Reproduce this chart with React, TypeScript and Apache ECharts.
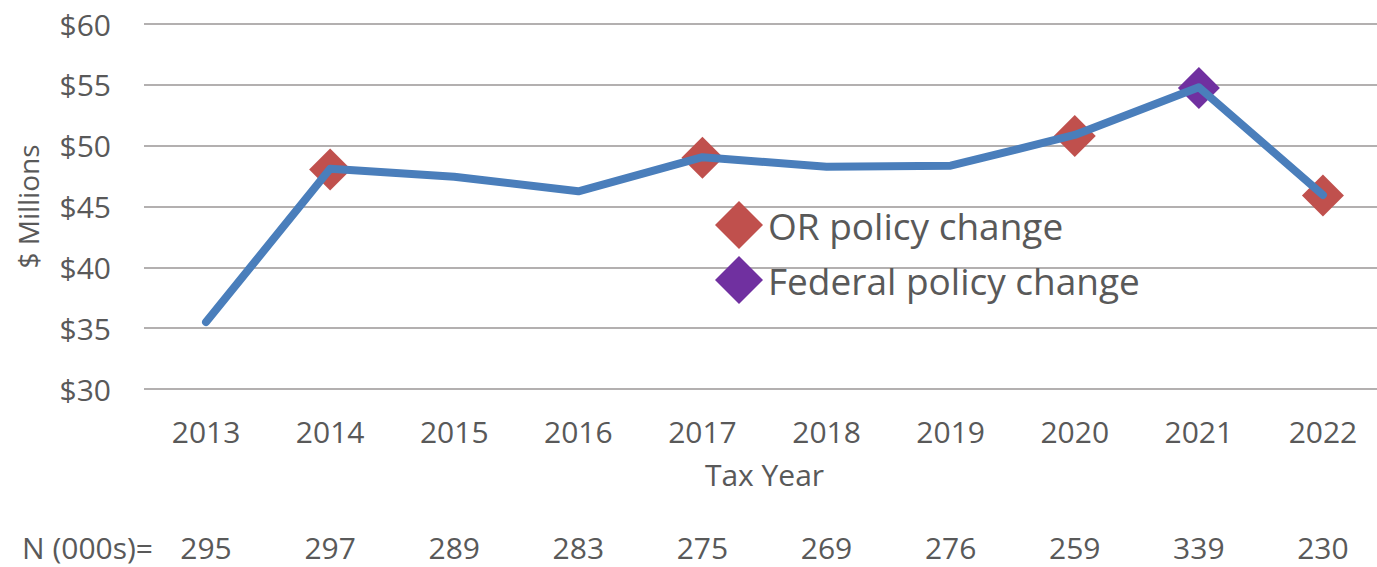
import React, { useEffect, useRef } from "react";
import * as echarts from "echarts";

const years = ["2013", "2014", "2015", "2016", "2017", "2018", "2019", "2020", "2021", "2022"];
const amounts = [35.5, 48.1, 47.45, 46.25, 49.05, 48.27, 48.35, 50.88, 54.8, 45.95];
const orPolicyChange: (number | string)[] = ["-", 48.05, "-", "-", 49.0, "-", "-", 50.8, "-", 45.9];
const federalPolicyChange: (number | string)[] = ["-", "-", "-", "-", "-", "-", "-", "-", 54.75, "-"];
const nCounts = ["295", "297", "289", "283", "275", "269", "276", "259", "339", "230"];
const yTicks = { min: 30, max: 60, interval: 5 };

const FONT = "'Open Sans', sans-serif";
const TEXT = "#595959";

export default function App() {
  const ref = useRef<HTMLDivElement>(null);
  useEffect(() => {
    document.body.style.margin = "0";
    const chart = echarts.init(ref.current!, null, { renderer: "svg" });
    chart.setOption({
      animation: false,
      textStyle: { fontFamily: FONT },
      grid: { left: 144, width: 1241, top: 24, height: 365, outerBoundsMode: "none", containLabel: false },
      legend: {
        orient: "vertical",
        left: 710,
        top: 196,
        itemWidth: 48,
        itemHeight: 48,
        itemGap: 7,
        icon: "diamond",
        data: ["OR policy change", "Federal policy change"],
        textStyle: { fontFamily: FONT, fontSize: 37, color: TEXT },
      },
      xAxis: [
        {
          type: "category",
          data: years,
          axisLine: { show: false },
          axisTick: { show: false },
          axisLabel: { fontFamily: FONT, fontSize: 30, color: TEXT, margin: 27 },
          name: "Tax Year",
          nameLocation: "middle",
          nameGap: 70,
          nameTextStyle: { fontFamily: FONT, fontSize: 30, color: TEXT },
        },
        {
          type: "category",
          data: nCounts,
          position: "bottom",
          axisLine: { show: false },
          axisTick: { show: false },
          splitLine: { show: false },
          axisLabel: { fontFamily: FONT, fontSize: 30, color: TEXT, margin: 143 },
        },
      ],
      yAxis: {
        type: "value",
        min: yTicks.min,
        max: yTicks.max,
        interval: yTicks.interval,
        axisLine: { show: false },
        axisTick: { show: false },
        splitLine: { lineStyle: { color: "#b3b0b0", width: 2 } },
        axisLabel: {
          fontFamily: FONT,
          fontSize: 30,
          color: TEXT,
          margin: 33,
          formatter: (v: number) => "$" + v,
        },
        name: "$ Millions",
        nameLocation: "middle",
        nameRotate: 90,
        nameGap: 102,
        nameTextStyle: { fontFamily: FONT, fontSize: 28, color: TEXT },
      },
      graphic: [
        {
          type: "text",
          left: 22,
          top: 532,
          style: { text: "N (000s)=", fontFamily: FONT, fontSize: 30, fill: TEXT },
        },
      ],
      series: [
        {
          name: "OR policy change",
          type: "scatter",
          symbol: "diamond",
          symbolSize: 42,
          itemStyle: { color: "#c0504d", opacity: 1 },
          data: orPolicyChange,
          z: 2,
        },
        {
          name: "Federal policy change",
          type: "scatter",
          symbol: "diamond",
          symbolSize: 42,
          itemStyle: { color: "#7030a0", opacity: 1 },
          data: federalPolicyChange,
          z: 2,
        },
        {
          name: "Amount",
          type: "line",
          data: amounts,
          showSymbol: false,
          symbol: "none",
          lineStyle: { color: "#4a7ebb", width: 8, cap: "round", join: "round" },
          z: 3,
        },
      ],
    });
    return () => chart.dispose();
  }, []);
  return <div ref={ref} style={{ width: 1377, height: 567 }} />;
}
